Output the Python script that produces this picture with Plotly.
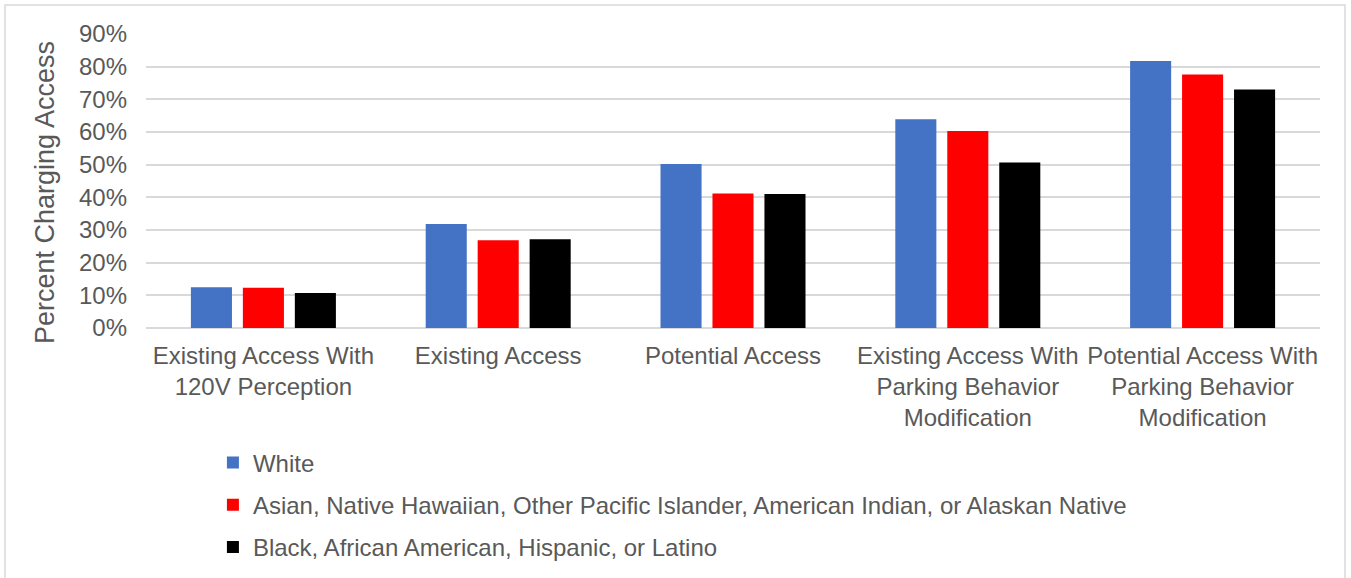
import plotly.graph_objects as go

categories = [
    "Existing Access With<br>120V Perception",
    "Existing Access",
    "Potential Access",
    "Existing Access With<br>Parking Behavior<br>Modification",
    "Potential Access With<br>Parking Behavior<br>Modification",
]
series_names = [
    "White",
    "Asian, Native Hawaiian, Other Pacific Islander, American Indian, or Alaskan Native",
    "Black, African American, Hispanic, or Latino",
]
white = [0.125, 0.318, 0.502, 0.639, 0.817]
asian_pi_native = [0.123, 0.269, 0.412, 0.603, 0.776]
black_hispanic = [0.107, 0.272, 0.410, 0.507, 0.730]
colors = ["#4472C4", "#FF0000", "#000000"]

y_ticks = [i / 10 for i in range(0, 10)]
y_title = "Percent Charging Access"

FONT = "Liberation Sans, Arial, sans-serif"
GREY = "#595959"

fig = go.Figure()
for name, vals, col in zip(series_names, [white, asian_pi_native, black_hispanic], colors):
    fig.add_trace(go.Bar(
        x=categories, y=vals, name=name, marker_color=col,
        marker_line_width=0, legendgroup=name,
    ))

fig.update_layout(
    width=1351, height=578,
    margin=dict(l=146, r=31, t=34, b=250, autoexpand=False),
    paper_bgcolor="white", plot_bgcolor="white",
    barmode="group", bargap=0.336, bargroupgap=0.21,
    font=dict(family=FONT, color=GREY, size=24),
    legend=dict(
        orientation="v", x=0.057, xanchor="left",
        yref="container", y=0.238, yanchor="top",
        font=dict(size=24, color=GREY), tracegroupgap=8,
        bgcolor="rgba(0,0,0,0)",
    ),
    showlegend=True,
)
fig.update_yaxes(
    range=[0, 0.9], tickvals=y_ticks, tickformat=".0%",
    showgrid=True, gridcolor="#d9d9d9", gridwidth=1.5,
    zeroline=True, zerolinecolor="#d9d9d9", zerolinewidth=1.5,
    showline=False, ticks="", ticklabelstandoff=18, automargin=False,
    tickfont=dict(size=24, color=GREY),
)
fig.update_xaxes(
    showgrid=False, showline=False, ticks="", automargin=False,
    tickfont=dict(size=24, color=GREY), ticklabelstandoff=11,
)
# y-axis title
fig.add_annotation(
    text=y_title, xref="paper", yref="paper", x=-0.086, y=0.459,
    xanchor="center", yanchor="middle", textangle=-90, showarrow=False,
    font=dict(size=27, color=GREY, family=FONT),
)
# chart border
fig.add_shape(type="rect", xref="paper", yref="paper",
              x0=-0.1201, x1=1.0213, y0=-0.95, y1=1.0986,
              line=dict(color="#d9d9d9", width=1.5), fillcolor="rgba(0,0,0,0)", layer="below")

fig.write_html("out.html")
